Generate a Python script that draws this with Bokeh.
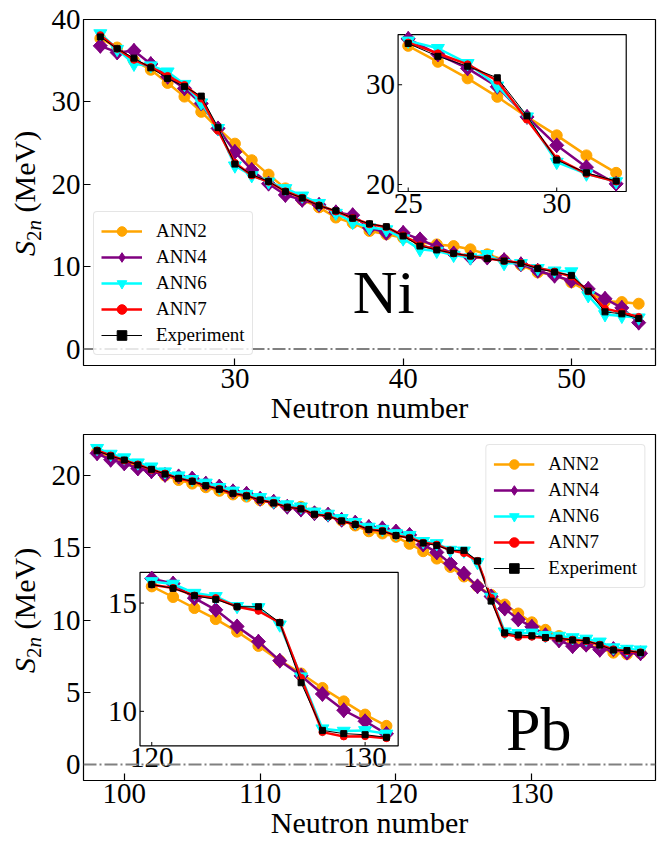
import numpy as np
from bokeh.plotting import figure
from bokeh.models import Range1d, FixedTicker, Span, Label, Legend, LegendItem, Div
from bokeh.layouts import column, row
from bokeh.embed import file_html
from bokeh.resources import INLINE
from bokeh.core.properties import value

FONT = "Liberation Serif"

# ---------------- data ----------------
ni_n = list(range(22, 55))
ni_ann2 = [37.70, 36.60, 35.00, 33.90, 32.30, 30.64, 28.79, 26.78, 24.93, 22.92, 21.17, 19.50, 18.10, 17.20,
           15.96, 15.30, 14.33, 13.92, 13.50, 13.00, 12.70, 12.50, 12.10, 11.50, 10.80, 10.20, 9.30, 9.00,
           8.10, 7.00, 5.80, 5.70, 5.50]
ni_ann4 = [36.80, 36.00, 36.20, 34.60, 33.05, 31.64, 29.80, 26.78, 23.93, 21.74, 20.07, 18.70, 18.10, 17.50,
           16.60, 16.25, 14.70, 14.10, 14.10, 13.31, 12.40, 11.60, 11.10, 11.10, 10.80, 10.30, 9.50, 8.90,
           8.30, 7.30, 6.10, 5.00, 3.20]
ni_ann6 = [38.30, 36.40, 34.60, 34.40, 33.66, 32.15, 29.90, 26.80, 22.25, 21.07, 20.30, 19.50, 18.60, 17.70,
           16.50, 15.40, 14.74, 14.50, 13.40, 12.10, 11.90, 11.40, 11.10, 11.50, 10.40, 10.40, 9.80, 9.50,
           9.40, 6.50, 4.20, 4.00, 3.80]
ni_ann7 = [38.10, 36.45, 35.10, 34.23, 33.15, 32.05, 30.40, 26.50, 22.60, 21.07, 20.30, 19.15, 18.35, 17.45,
           16.70, 15.90, 15.15, 14.80, 13.80, 12.60, 12.10, 11.60, 11.30, 11.00, 10.70, 10.45, 9.85, 9.40,
           8.80, 7.00, 4.90, 4.45, 3.90]
ni_exp = [37.88, 36.45, 35.31, 34.13, 32.85, 31.85, 30.70, 26.88, 22.45, 21.18, 20.35, 19.10, 18.33, 17.39,
          16.78, 15.88, 15.20, 14.85, 13.72, 12.50, 12.03, 11.62, 11.29, 10.97, 10.69, 10.40, 9.76, 9.34,
          8.94, 7.03, 4.51, 4.27, 3.70]

pb_n = list(range(98, 139))
pb_ann2 = [21.65, 21.30, 21.00, 20.65, 20.35, 20.00, 19.70, 19.45, 19.20, 18.95, 18.70, 18.55, 18.30, 18.15,
           17.90, 17.85, 17.45, 17.30, 16.90, 16.55, 16.15, 16.00, 15.77, 15.28, 14.77, 14.26, 13.68, 13.02,
           12.34, 11.75, 11.08, 10.46, 9.85, 9.33, 8.90, 8.50, 8.30, 8.05, 7.75, 7.65, 7.70]
pb_ann4 = [21.55, 21.10, 20.85, 20.50, 20.30, 20.05, 19.95, 19.80, 19.45, 19.25, 18.92, 18.75, 18.40, 18.20,
           17.85, 17.65, 17.40, 17.30, 16.95, 16.75, 16.45, 16.35, 16.13, 15.90, 15.23, 14.69, 13.92, 13.22,
           12.34, 11.64, 10.80, 10.05, 9.54, 8.96, 8.60, 8.20, 8.30, 7.95, 8.00, 7.75, 7.70]
pb_ann6 = [21.90, 21.50, 21.25, 20.90, 20.62, 20.28, 20.00, 19.75, 19.50, 19.20, 18.95, 18.72, 18.50, 18.25,
           18.00, 17.85, 17.50, 17.35, 17.05, 16.78, 16.45, 16.30, 16.00, 15.88, 15.46, 15.31, 14.85, 14.80,
           14.00, 11.60, 9.20, 9.09, 9.12, 8.96, 8.90, 8.80, 8.70, 8.50, 8.10, 8.00, 7.95]
pb_ann7 = [21.75, 21.40, 21.05, 20.78, 20.40, 20.15, 19.78, 19.62, 19.28, 19.08, 18.75, 18.62, 18.30, 18.12,
           17.80, 17.72, 17.30, 17.22, 16.85, 16.64, 16.25, 16.18, 15.85, 15.70, 15.35, 15.23, 14.83, 14.64,
           14.10, 11.55, 9.04, 8.84, 8.85, 8.76, 8.72, 8.65, 8.55, 8.30, 7.98, 7.85, 7.78]
pb_exp = [21.72, 21.36, 21.08, 20.74, 20.44, 20.11, 19.82, 19.61, 19.31, 19.06, 18.78, 18.60, 18.32, 18.11,
          17.82, 17.70, 17.33, 17.20, 16.87, 16.62, 16.28, 16.16, 15.86, 15.68, 15.34, 15.17, 14.83, 14.83,
          14.10, 11.32, 9.12, 8.97, 8.92, 8.80, 8.75, 8.62, 8.58, 8.28, 7.93, 7.89, 7.75]

series_names = ["ANN2", "ANN4", "ANN6", "ANN7", "Experiment"]
ni_xticks = [30, 40, 50]
ni_yticks = [0, 10, 20, 30, 40]
pb_xticks = [100, 110, 120, 130]
pb_yticks = [0, 5, 10, 15, 20]
ni_inset_xticks = [25, 30]
ni_inset_yticks = [20, 30]
pb_inset_xticks = [120, 130]
pb_inset_yticks = [10, 15]
ni_inset_n = (25, 32)
pb_inset_n = (120, 131)

# ---------------- styles ----------------
STYLES = {
    "ANN2": dict(color="orange", marker="circle", size=11, lw=2.5, angle=0.0, leg_marker=None),
    "ANN4": dict(color="purple", marker="square", size=10, lw=2.5, angle=np.pi / 4,
                 leg_marker=("diamond", 15)),
    "ANN6": dict(color="cyan", marker="inverted_triangle", size=13, lw=2.5, angle=0.0, leg_marker=None),
    "ANN7": dict(color="red", marker="circle", size=7, lw=2.5, angle=0.0, leg_marker=None),
    "Experiment": dict(color="black", marker="square", size=6, lw=1.0, angle=0.0, leg_marker=None),
}
TICK_FS = "29px"
LEFT_W = 42


def draw_series(target, xs, ys, name):
    """Returns the renderers to be shown in the legend."""
    st = STYLES[name]
    r_line = target.line(xs, ys, line_color=st["color"], line_width=st["lw"])
    r_leg = None
    if st["leg_marker"] is not None:
        # upright diamond drawn beneath the rotated square (hidden by it); used for the legend
        r_leg = target.scatter(xs, ys, marker=st["leg_marker"][0], size=st["leg_marker"][1],
                               fill_color=st["color"], line_color=st["color"], line_width=1)
    r_mark = target.scatter(xs, ys, marker=st["marker"], size=st["size"], angle=st["angle"],
                            fill_color=st["color"], line_color=st["color"], line_width=1)
    return [r_line, r_leg if r_leg is not None else r_mark]


def style_axes(p, xticks, yticks):
    p.xaxis.ticker = FixedTicker(ticks=xticks)
    p.yaxis.ticker = FixedTicker(ticks=yticks)
    for ax in (p.xaxis[0], p.yaxis[0]):
        ax.major_tick_in = 7
        ax.major_tick_out = 0
        ax.major_tick_line_color = "black"
        ax.major_tick_line_width = 1.2
        ax.minor_tick_line_color = None
        ax.axis_line_color = None
        ax.major_label_text_font = FONT
        ax.major_label_text_font_size = TICK_FS
        ax.major_label_text_color = "black"
        ax.major_label_standoff = 3
    p.xaxis.axis_label = "Neutron number"
    p.xaxis.axis_label_text_font = FONT
    p.xaxis.axis_label_text_font_size = "30px"
    p.xaxis.axis_label_text_font_style = "normal"
    p.xaxis.axis_label_text_color = "black"
    p.xaxis.axis_label_standoff = 0
    p.xgrid.visible = False
    p.ygrid.visible = False
    p.outline_line_color = "black"
    p.outline_line_width = 1.2
    p.outline_line_alpha = 1.0


def ylabel_div(height, start_y):
    html = (
        f'<div style="position:relative;width:{LEFT_W}px;height:{height}px;">'
        f'<div style="position:absolute;left:10px;top:{start_y}px;transform-origin:0 0;'
        f'transform:rotate(-90deg);white-space:nowrap;font-family:\'{FONT}\';font-size:30px;'
        f'line-height:30px;color:black;">'
        f'<i>S</i><span style="font-size:21px;position:relative;top:6px;">2<i>n</i></span>'
        f'&nbsp;(MeV)</div></div>'
    )
    return Div(text=html, width=LEFT_W, height=height, margin=(0, 0, 0, 0))


def add_inset(p, ns, data, nrange, xsrc, ysrc, xtgt, ytgt, xticks, yticks):
    sub = p.subplot(x_source=Range1d(*xsrc), y_source=Range1d(*ysrc),
                    x_target=Range1d(*xtgt), y_target=Range1d(*ytgt))
    sub.quad(left=[xsrc[0]], right=[xsrc[1]], bottom=[ysrc[0]], top=[ysrc[1]],
             fill_color="white", line_color="black", line_width=1.2)
    idx = [i for i, n in enumerate(ns) if nrange[0] <= n <= nrange[1]]
    xs = [ns[i] for i in idx]
    for name in series_names:
        draw_series(sub, xs, [data[name][i] for i in idx], name)
    sub.ray(x=xticks, y=[ysrc[0]] * len(xticks), length=4, length_units="screen", angle=np.pi / 2,
            line_color="black", line_width=1)
    sub.ray(x=[xsrc[0]] * len(yticks), y=yticks, length=4, length_units="screen", angle=0,
            line_color="black", line_width=1)
    sub.text(x=xticks, y=[ysrc[0]] * len(xticks), text=[str(t) for t in xticks], y_offset=2,
             text_align="center", text_baseline="top", text_font=value(FONT), text_font_size=TICK_FS,
             text_color="black")
    sub.text(x=[xsrc[0]] * len(yticks), y=yticks, text=[str(t) for t in yticks], x_offset=-3,
             text_align="right", text_baseline="middle", text_font=value(FONT), text_font_size=TICK_FS,
             text_color="black")


def build_panel(ns, data, xr, yr, xticks, yticks, height, mb_top, mb_bottom, legend_loc,
                elem, elem_xy, inset):
    p = figure(width=669 - LEFT_W, height=height, x_range=Range1d(*xr), y_range=Range1d(*yr),
               output_backend="svg", toolbar_location=None,
               min_border_left=83 - LEFT_W, min_border_right=14, min_border_top=mb_top,
               min_border_bottom=mb_bottom)
    p.background_fill_color = "white"
    p.border_fill_color = "white"
    style_axes(p, xticks, yticks)
    p.add_layout(Span(location=0, dimension="width", line_color="gray", line_width=2, line_dash="13 3 2 3"))
    items = []
    for name in series_names:
        rs = draw_series(p, ns, data[name], name)
        items.append(LegendItem(label=name, renderers=rs))
    leg = Legend(items=items, location=legend_loc, margin=10, padding=7, spacing=2,
                 glyph_width=41, glyph_height=24, label_height=24, label_standoff=14,
                 label_text_font=FONT, label_text_font_size="19px", label_text_color="black",
                 border_line_color="#cccccc", border_line_width=1, background_fill_alpha=0.8)
    if "border_radius" in Legend.properties():
        leg.border_radius = 4
    p.add_layout(leg)
    p.add_layout(Label(x=elem_xy[0], y=elem_xy[1], text=elem, text_font=FONT, text_font_size="62px",
                       text_color="black", text_baseline="alphabetic", text_align="left"))
    add_inset(p, ns, data, **inset)
    return p


ni_data = dict(zip(series_names, [ni_ann2, ni_ann4, ni_ann6, ni_ann7, ni_exp]))
pb_data = dict(zip(series_names, [pb_ann2, pb_ann4, pb_ann6, pb_ann7, pb_exp]))

p1 = build_panel(ni_n, ni_data, (21, 55), (-2, 40), ni_xticks, ni_yticks, 434, 19, 69, "bottom_left",
                 "Ni", (37, 6.9),
                 dict(nrange=ni_inset_n, xsrc=(24.66, 32.34), ysrc=(19.3, 35.03),
                      xtgt=(39.70, 53.26), ytgt=(19.12, 38.17),
                      xticks=ni_inset_xticks, yticks=ni_inset_yticks))
p2 = build_panel(pb_n, pb_data, (97, 139.1), (-1.1, 22.85), pb_xticks, pb_yticks, 412, 0, 66, "top_right",
                 "Pb", (128.1, 2.45),
                 dict(nrange=pb_inset_n, xsrc=(119.45, 131.55), ysrc=(8.4, 16.42),
                      xtgt=(101.16, 120.16), ytgt=(1.29, 13.31),
                      xticks=pb_inset_xticks, yticks=pb_inset_yticks))

layout = column(row(ylabel_div(434, 256), p1, spacing=0),
                row(ylabel_div(412, 239), p2, spacing=0), spacing=0)
open("out.html", "w").write(file_html(layout, INLINE))
